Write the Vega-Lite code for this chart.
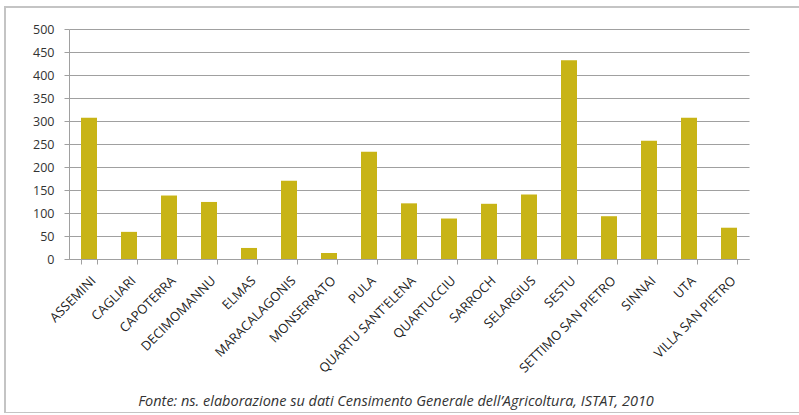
{
  "$schema": "https://vega.github.io/schema/vega-lite/v6.json",
  "width": 800,
  "height": 406,
  "autosize": {"type": "none"},
  "padding": {"left": 5, "top": 7, "right": 0, "bottom": 0},
  "background": "white",
  "config": {
    "view": {"stroke": "#c4c4c4", "strokeWidth": 2},
    "font": "Open Sans"
  },
  "title": {
    "text": "Fonte: ns. elaborazione su dati Censimento Generale dell’Agricoltura, ISTAT, 2010",
    "orient": "bottom",
    "anchor": "middle",
    "frame": "group",
    "offset": -18,
    "dx": -9,
    "fontStyle": "italic",
    "fontWeight": "normal",
    "fontSize": 14.5,
    "font": "Open Sans",
    "color": "#333333"
  },
  "data": {
    "values": [
      {"comune": "ASSEMINI", "valore": 307},
      {"comune": "CAGLIARI", "valore": 59},
      {"comune": "CAPOTERRA", "valore": 138},
      {"comune": "DECIMOMANNU", "valore": 124},
      {"comune": "ELMAS", "valore": 24},
      {"comune": "MARACALAGONIS", "valore": 170},
      {"comune": "MONSERRATO", "valore": 13},
      {"comune": "PULA", "valore": 233},
      {"comune": "QUARTU SANT'ELENA", "valore": 121},
      {"comune": "QUARTUCCIU", "valore": 88},
      {"comune": "SARROCH", "valore": 120},
      {"comune": "SELARGIUS", "valore": 140},
      {"comune": "SESTU", "valore": 432},
      {"comune": "SETTIMO SAN PIETRO", "valore": 93},
      {"comune": "SINNAI", "valore": 257},
      {"comune": "UTA", "valore": 307},
      {"comune": "VILLA SAN PIETRO", "valore": 68}
    ]
  },
  "mark": {"type": "bar", "color": "#c8b416"},
  "encoding": {
    "x": {
      "field": "comune",
      "type": "nominal",
      "sort": null,
      "scale": {"range": [64, 744], "paddingInner": 0.6, "paddingOuter": 0.3},
      "axis": {
        "title": null,
        "offset": -154,
        "tickBand": "extent",
        "labelAngle": -45,
        "labelFontSize": 13,
        "labelColor": "#222222",
        "labelPadding": 10,
        "labelOverlap": false,
        "tickSize": 5,
        "tickColor": "#a0a0a0",
        "domainColor": "#a0a0a0",
        "grid": false
      }
    },
    "y": {
      "field": "valore",
      "type": "quantitative",
      "scale": {"domain": [0, 500], "range": [252, 22], "nice": false},
      "axis": {
        "title": null,
        "offset": -64,
        "values": [0, 50, 100, 150, 200, 250, 300, 350, 400, 450, 500],
        "tickSize": 5,
        "tickColor": "#a0a0a0",
        "domainColor": "#a0a0a0",
        "gridColor": "#a0a0a0",
        "gridWidth": 1.2,
        "labelFontSize": 12.5,
        "labelColor": "#333333",
        "labelPadding": 10
      }
    }
  }
}
